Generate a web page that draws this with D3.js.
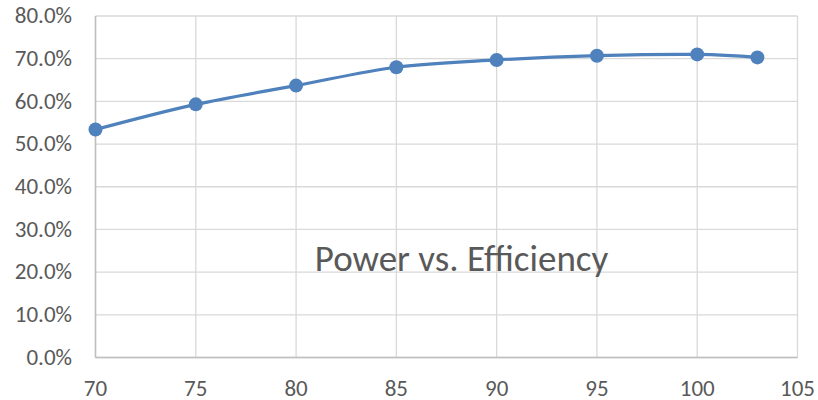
<!DOCTYPE html>
<html>
<head>
<meta charset="utf-8">
<script src="https://cdn.jsdelivr.net/npm/d3@7"></script>
<style>
  html, body { margin: 0; padding: 0; background: #fff; }
  svg { display: block; }
</style>
</head>
<body>
<svg id="chart" width="818" height="400"></svg>
<script>
// Measured power (x) and efficiency (y, fraction)
const power = [70, 75, 80, 85, 90, 95, 100, 103];
const efficiency = [0.534, 0.593, 0.637, 0.680, 0.697, 0.707, 0.710, 0.703];
const xTicks = [70, 75, 80, 85, 90, 95, 100, 105];
const yTicks = [0, 0.1, 0.2, 0.3, 0.4, 0.5, 0.6, 0.7, 0.8];
const chartTitle = "Power vs. Efficiency";

const svg = d3.select("#chart");
const plotLeft = 95.5, plotRight = 797.5, plotTop = 16, plotBottom = 357.5;

const x = d3.scaleLinear().domain([70, 105]).range([plotLeft, plotRight]);
const y = d3.scaleLinear().domain([0, 0.8]).range([plotBottom, plotTop]);

const font = "Calibri, Carlito, 'Open Sans', sans-serif";

// gridlines
svg.append("g").selectAll("line").data(yTicks).join("line")
  .attr("x1", plotLeft).attr("x2", plotRight)
  .attr("y1", d => y(d)).attr("y2", d => y(d))
  .attr("stroke", "#d9d9d9").attr("stroke-width", 1.3);
svg.append("g").selectAll("line").data(xTicks).join("line")
  .attr("x1", d => x(d)).attr("x2", d => x(d))
  .attr("y1", plotTop).attr("y2", plotBottom)
  .attr("stroke", "#d9d9d9").attr("stroke-width", 1.3);

// axis lines
svg.append("line").attr("x1", plotLeft).attr("x2", plotLeft).attr("y1", plotTop).attr("y2", plotBottom)
  .attr("stroke", "#bfbfbf").attr("stroke-width", 1.5);
svg.append("line").attr("x1", plotLeft).attr("x2", plotRight).attr("y1", plotBottom).attr("y2", plotBottom)
  .attr("stroke", "#bfbfbf").attr("stroke-width", 1.5);

// axis labels
const pct = d3.format(".1%");
svg.append("g").selectAll("text").data(yTicks).join("text")
  .attr("x", 72).attr("y", d => y(d)).attr("dy", "0.32em")
  .attr("text-anchor", "end")
  .attr("font-family", font).attr("font-size", 23).attr("fill", "#595959")
  .text(d => pct(d));
svg.append("g").selectAll("text").data(xTicks).join("text")
  .attr("x", d => x(d)).attr("y", 396)
  .attr("text-anchor", "middle")
  .attr("font-family", font).attr("font-size", 23).attr("fill", "#595959")
  .text(d => d);

// chart title inside plot
svg.append("text")
  .attr("x", 461.5).attr("y", 271)
  .attr("text-anchor", "middle")
  .attr("font-family", font).attr("font-size", 37).attr("fill", "#595959")
  .text(chartTitle);

// smoothed series line
const pts = power.map((p, i) => [p, efficiency[i]]);
const line = d3.line().x(d => x(d[0])).y(d => y(d[1])).curve(d3.curveCatmullRom.alpha(0));
svg.append("path").datum(pts).attr("d", line)
  .attr("fill", "none").attr("stroke", "#4f81bd").attr("stroke-width", 3.2);

svg.append("g").selectAll("circle").data(pts).join("circle")
  .attr("cx", d => x(d[0])).attr("cy", d => y(d[1])).attr("r", 7)
  .attr("fill", "#4f81bd");
</script>
</body>
</html>
